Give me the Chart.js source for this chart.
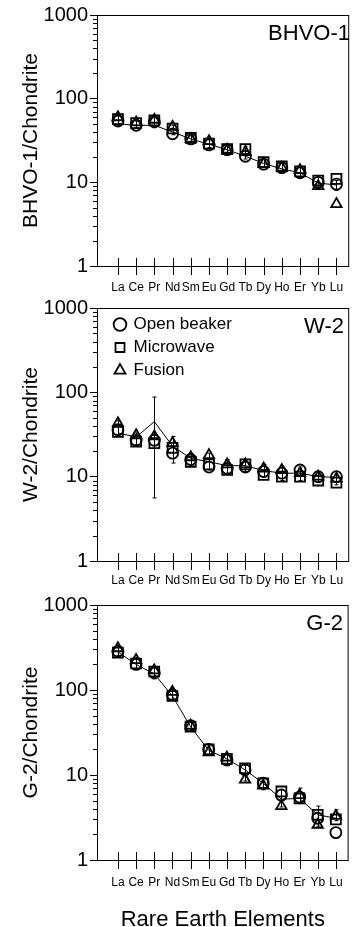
<!DOCTYPE html>
<html><head><meta charset="utf-8">
<script src="https://cdn.jsdelivr.net/npm/chart.js@4/dist/chart.umd.min.js"></script>
<style>
html,body{margin:0;padding:0;background:#fff;overflow:hidden;width:358px;height:927px}
canvas{position:absolute;left:0}
</style></head><body>
<canvas id="c1" width="358" height="295" style="top:0px"></canvas>
<canvas id="c2" width="358" height="295" style="top:293px"></canvas>
<canvas id="c3" width="358" height="345" style="top:590px"></canvas>
<script>
// ---------- data ----------
const elements = ['La','Ce','Pr','Nd','Sm','Eu','Gd','Tb','Dy','Ho','Er','Yb','Lu'];
const yTicks = [1, 10, 100, 1000];
const methods = ['Open beaker', 'Microwave', 'Fusion'];

// BHVO-1 / chondrite
const bhvoMean     = [50, 48, 48, 40, 33, 28.5, 24.5, 20.5, 16.8, 14.5, 13, 9.8, 9.3];
const bhvoOpen     = [54, 48, 53, 38, 33, 28, 24.5, 20.5, 16.5, 15, 13, 10, 9.5];
const bhvoMicro    = [57, 51, 55, 44, 34, 29, 25, 25, 17.5, 15.5, 13.5, 10.5, 11];
const bhvoFusion   = [60, 52, 56, 46, 33, 31, 24.5, 23, 16.5, 15, 14, 9, 5.5];
const bhvoErrHi    = [64, 54, 59, 48, 36, 33, 27, 27, 19, 17, 15.5, 11.5, 10.5];
const bhvoErrLo    = [48, 45, 45, 37, 31, 26, 22, 19, 15, 13, 11.5, 8.5, 8];

// W-2 / chondrite
const w2Mean       = [33, 29.5, 45, 23, 16.5, 15, 13.5, 13.5, 11.8, 11, 11, 10, 9.8];
const w2Open       = [36, 27, 27, 19, 16, 13, 12.5, 13, 11.5, 11, 12, 10, 10];
const w2Micro      = [34, 26, 25, 22, 15, 14, 12, 14, 10.5, 10, 10, 9, 8.5];
const w2Fusion     = [43, 31, 30, 25, 17, 18, 14, 14, 12.5, 12, 11, 10, 9.5];
const w2ErrHi      = [46, 33, 88, 30, 18, 19, 16, 16, 14, 13, 13, 11.5, 11.5];
const w2ErrLo      = [31, 24, 5.6, 14.5, 13.5, 12, 11, 11.5, 10, 9, 9, 8.5, 8];

// G-2 / chondrite
const g2Mean       = [280, 200, 155, 85, 37, 19.5, 15.5, 11.5, 8, 5.2, 5.3, 3.4, 3.1];
const g2Open       = [285, 200, 160, 88, 38, 20, 15, 11.5, 8, 5.8, 5.5, 3.1, 2.1];
const g2Micro      = [275, 205, 165, 85, 37, 20, 15.5, 12, 8, 6.4, 5.3, 3.4, 3.0];
const g2Fusion     = [310, 225, 170, 95, 38, 18.5, 16, 8.8, 7.5, 4.3, 5.8, 2.6, 3.3];
const g2ErrHi      = [330, 240, 180, 105, 42, 22, 17.5, 13, 9, 6.8, 7, 4.3, 3.9];
const g2ErrLo      = [255, 180, 135, 78, 34, 17, 13, 8.5, 6.7, 4.2, 4.6, 2.5, 2.9];

// ---------- setup ----------
const FONT = "'Liberation Sans', Arial, Helvetica, sans-serif";
Chart.defaults.font.family = FONT;
Chart.defaults.color = '#000';

const pts = arr => arr.map((v, i) => ({x: i, y: v}));

function decorPlugin(label, labelRight, errHi, errLo) {
  return {
    id: 'decor',
    afterDatasetsDraw(chart) {
      const {ctx, scales: {x, y}} = chart;
      ctx.save();
      ctx.strokeStyle = '#000';
      ctx.lineWidth = 1;
      errHi.forEach((hi, i) => {
        const px = Math.round(x.getPixelForValue(i)) + 0.5;
        const yh = y.getPixelForValue(hi), yl = y.getPixelForValue(errLo[i]);
        ctx.beginPath();
        ctx.moveTo(px, yh); ctx.lineTo(px, yl);
        ctx.moveTo(px - 2, yh); ctx.lineTo(px + 2, yh);
        ctx.moveTo(px - 2, yl); ctx.lineTo(px + 2, yl);
        ctx.stroke();
      });
      ctx.restore();
    },
    afterDraw(chart) {
      const {ctx, chartArea: a, scales: {x, y}} = chart;
      ctx.save();
      ctx.strokeStyle = '#000';
      ctx.lineWidth = 1;
      ctx.strokeRect(a.left + 0.5, a.top + 0.5, a.right - a.left - 1, a.bottom - a.top);
      ctx.beginPath();
      elements.forEach((e, i) => {
        const px = Math.round(x.getPixelForValue(i)) + 0.5;
        ctx.moveTo(px, a.bottom - 8); ctx.lineTo(px, a.bottom + 9);
      });
      for (let d = 1; d < 1000; d *= 10) {
        for (let k = 2; k < 10; k++) {
          const py = Math.round(y.getPixelForValue(d * k)) + 0.5;
          ctx.moveTo(a.left - 4, py); ctx.lineTo(a.left, py);
        }
      }
      ctx.stroke();
      ctx.fillStyle = '#000';
      ctx.font = '22px ' + FONT;
      ctx.textAlign = 'right';
      ctx.textBaseline = 'middle';
      ctx.fillText(label, labelRight, a.top + 19);
      ctx.restore();
    }
  };
}

const legendShift = {
  id: 'legendShift',
  afterLayout(chart) {
    const lg = chart.legend;
    if (lg && chart.options.plugins.legend.display) {
      lg.left = chart.chartArea.left + 12;
      lg.top = chart.chartArea.top + 2;
    }
  }
};

function makePanel(id, opts) {
  const canvas = document.getElementById(id);
  const H = canvas.height;
  const datasets = [
    {label: methods[0], data: pts(opts.open), pointStyle: 'circle', pointRadius: 5.5,
     borderColor: '#000', backgroundColor: 'rgba(0,0,0,0)', borderWidth: 1.8, showLine: false, order: 2},
    {label: methods[1], data: pts(opts.micro), pointStyle: 'rect', pointRadius: 7,
     borderColor: '#000', backgroundColor: 'rgba(0,0,0,0)', borderWidth: 1.8, showLine: false, order: 2},
    {label: methods[2], data: pts(opts.fusion), pointStyle: 'triangle', pointRadius: 6,
     borderColor: '#000', backgroundColor: 'rgba(0,0,0,0)', borderWidth: 1.8, showLine: false, order: 2},
    {label: 'mean', data: pts(opts.mean), showLine: true, pointRadius: 0,
     borderColor: '#000', borderWidth: 1, backgroundColor: '#000', order: 1}
  ];
  return new Chart(canvas, {
    type: 'scatter',
    data: {datasets},
    options: {
      responsive: false,
      animation: false,
      devicePixelRatio: 1,
      layout: {padding: {top: 15, left: 0, right: 6, bottom: 0}},
      plugins: {
        legend: {
          display: !!opts.legend,
          position: 'chartArea',
          align: 'start',
          labels: {
            usePointStyle: true, boxWidth: 10, boxHeight: 9, padding: 6,
            font: {size: 17, family: FONT}, color: '#000',
            filter: item => item.datasetIndex < 3
          }
        },
        tooltip: {enabled: false}
      },
      scales: {
        x: {
          type: 'linear', min: -1.15, max: 12.7,
          afterBuildTicks: s => { s.ticks = elements.map((e, i) => ({value: i})); },
          afterFit: s => { s.height = H - opts.bottom; },
          grid: {display: false, drawTicks: false},
          border: {display: false},
          ticks: {autoSkip: false, maxRotation: 0, padding: opts.xPad,
                  font: {size: 12, family: FONT},
                  callback: v => elements[v] !== undefined ? elements[v] : ''},
          title: opts.xTitle ? {display: true, text: opts.xTitle, font: {size: 22, family: FONT},
                                padding: {top: 0, bottom: 2}} : {display: false}
        },
        y: {
          type: 'logarithmic', min: 1, max: 1000,
          afterBuildTicks: s => { s.ticks = yTicks.map(v => ({value: v})); },
          afterFit: s => { s.width = 97; },
          grid: {display: true, drawOnChartArea: false, drawTicks: true, tickLength: 7, color: '#000'},
          border: {display: false},
          ticks: {padding: 2, font: {size: 20, family: FONT}, callback: v => String(v)},
          title: {display: true, text: opts.yTitle, font: {size: 21, family: FONT},
                  padding: {top: 19, bottom: 0}}
        }
      }
    },
    plugins: [decorPlugin(opts.label, opts.labelRight, opts.errHi, opts.errLo), legendShift]
  });
}

makePanel('c1', {open: bhvoOpen, micro: bhvoMicro, fusion: bhvoFusion, mean: bhvoMean,
  errHi: bhvoErrHi, errLo: bhvoErrLo, label: 'BHVO-1', labelRight: 350,
  yTitle: 'BHVO-1/Chondrite', bottom: 266, xPad: 14});
makePanel('c2', {open: w2Open, micro: w2Micro, fusion: w2Fusion, mean: w2Mean,
  errHi: w2ErrHi, errLo: w2ErrLo, label: 'W-2', labelRight: 344, legend: true,
  yTitle: 'W-2/Chondrite', bottom: 268, xPad: 12});
makePanel('c3', {open: g2Open, micro: g2Micro, fusion: g2Fusion, mean: g2Mean,
  errHi: g2ErrHi, errLo: g2ErrLo, label: 'G-2', labelRight: 343,
  yTitle: 'G-2/Chondrite', bottom: 270, xPad: 15, xTitle: 'Rare Earth Elements'});
</script>
</body></html>
